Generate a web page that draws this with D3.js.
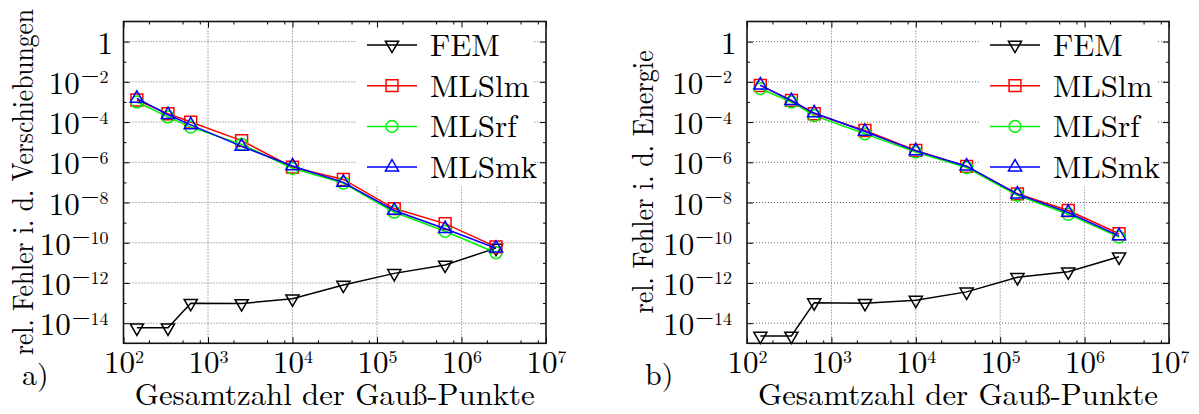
<!DOCTYPE html>
<html>
<head>
<meta charset="utf-8">
<script src="https://cdn.jsdelivr.net/npm/d3@7"></script>
<style>
  body { margin: 0; background: #fff; }
</style>
</head>
<body>
<div id="chart"></div>
<script>
// x values (Gauss points) shared by both panels
const gaussPts = [144, 336, 625, 2500, 1e4, 4e4, 1.6e5, 6.4e5, 2.56e6];

// a) error in displacements
const femA   = [5.9e-15, 5.9e-15, 9.8e-14, 9.5e-14, 1.65e-13, 7.9e-13, 3e-12, 7.8e-12, 5.4e-11];
const mlslmA = [1.25e-3, 2.6e-4, 1e-4, 1.2e-5, 5.7e-7, 1.4e-7, 5e-9, 8.9e-10, 6.2e-11];
const mlsrfA = [1e-3, 1.8e-4, 5.6e-5, 7.8e-6, 5e-7, 9.3e-8, 3.3e-9, 3.7e-10, 3.2e-11];
const mlsmkA = [1.5e-3, 2.3e-4, 7.2e-5, 6.2e-6, 6.5e-7, 1.0e-7, 4e-9, 5e-10, 5.3e-11];

// b) error in energy
const femB   = [2.3e-15, 2.3e-15, 1.05e-13, 9.8e-14, 1.4e-13, 3.6e-13, 1.9e-12, 3.6e-12, 2e-11];
const mlslmB = [6.6e-3, 1.2e-3, 2.6e-4, 3.8e-5, 3.9e-6, 6.3e-7, 2.7e-8, 4e-9, 2.8e-10];
const mlsrfB = [4.6e-3, 1e-3, 2.1e-4, 2.6e-5, 3.2e-6, 5.5e-7, 2.3e-8, 2.6e-9, 1.9e-10];
const mlsmkB = [6.8e-3, 1.15e-3, 2.8e-4, 3.4e-5, 3.7e-6, 6.4e-7, 2.6e-8, 3.2e-9, 2.2e-10];

const seriesNames = ["FEM", "MLSlm", "MLSrf", "MLSmk"];
const xTicks = [1e2, 1e3, 1e4, 1e5, 1e6, 1e7];
const yTicks = [1, 1e-2, 1e-4, 1e-6, 1e-8, 1e-10, 1e-12, 1e-14];
const yMinorTicks = [1e-1, 1e-3, 1e-5, 1e-7, 1e-9, 1e-11, 1e-13];

const W = 1199, H = 414;
const FONT = "'Latin Modern Roman', 'CMU Serif', 'Liberation Serif', 'Times New Roman', 'DejaVu Serif', serif";
const colors = ["#000000", "#ff0000", "#00ee00", "#0000ff"];
const symbols = [
  d3.symbol().type(d3.symbolTriangle).size(75),
  d3.symbol().type(d3.symbolSquare).size(140),
  d3.symbol().type(d3.symbolCircle).size(110),
  d3.symbol().type(d3.symbolTriangle).size(75)
];
const rot = [180, 0, 0, 0];

const svg = d3.select("#chart").append("svg")
  .attr("width", W)
  .attr("height", H)
  .style("font-family", FONT);
svg.append("rect").attr("width", W).attr("height", H).attr("fill", "#fff");

const panels = [
  { left: 123.5, right: 546, ylabel: "rel. Fehler i. d. Verschiebungen", ylabX: 33, ylabLen: 346,
    tag: "a)", tagX: 22, series: [femA, mlslmA, mlsrfA, mlsmkA] },
  { left: 747, right: 1169, ylabel: "rel. Fehler i. d. Energie", ylabX: 653, ylabLen: 263,
    tag: "b)", tagX: 645, series: [femB, mlslmB, mlsrfB, mlsmkB] }
];
const plotTop = 21.5, plotBottom = 343.3;

panels.forEach(drawPanel);
svg.selectAll("text").style("font-family", FONT).attr("fill", "#000");

function drawPanel(p) {
  const x = d3.scaleLog().domain([1e2, 1e7]).range([p.left, p.right]);
  const y = d3.scaleLog().domain([1e-15, 1e1]).range([plotBottom, plotTop]);

  // minor x ticks at 2, 5, 8 of each decade
  const xMinor = [];
  for (let e = 2; e < 7; e++) [2, 5, 8].forEach(m => xMinor.push(m * Math.pow(10, e)));

  const g = svg.append("g");

  // grid
  g.append("g").selectAll("line")
    .data(xTicks.slice(1, -1))
    .join("line")
    .attr("x1", d => x(d)).attr("x2", d => x(d))
    .attr("y1", plotTop).attr("y2", plotBottom)
    .attr("stroke", "#666").attr("stroke-width", 1).attr("stroke-dasharray", "1,2");
  g.append("g").selectAll("line")
    .data(yTicks)
    .join("line")
    .attr("x1", p.left).attr("x2", p.right)
    .attr("y1", d => y(d)).attr("y2", d => y(d))
    .attr("stroke", "#666").attr("stroke-width", 1).attr("stroke-dasharray", "1,2");

  // legend box hides the grid, data is drawn over it
  const lx = p.right - 189;
  g.append("rect")
    .attr("x", lx).attr("y", plotTop + 1)
    .attr("width", 176).attr("height", 164)
    .attr("fill", "#fff");

  // axes (ticks point inward)
  const axes = g.append("g").attr("class", "axes");
  const mk = (axis, tr) => {
    const a = axes.append("g").attr("transform", tr).call(axis);
    a.attr("font-family", null);
    a.select(".domain").remove();
    a.selectAll(".tick text").remove();
    a.selectAll(".tick line").attr("stroke", "#000").attr("stroke-width", 1);
    return a;
  };
  const xb = mk(d3.axisBottom(x).tickValues(xTicks).tickSize(-6), `translate(0,${plotBottom})`);
  mk(d3.axisBottom(x).tickValues(xMinor).tickSize(-3), `translate(0,${plotBottom})`);
  mk(d3.axisTop(x).tickValues(xTicks).tickSize(-6), `translate(0,${plotTop})`);
  mk(d3.axisTop(x).tickValues(xMinor).tickSize(-3), `translate(0,${plotTop})`);
  const yl = mk(d3.axisLeft(y).tickValues(yTicks).tickSize(-6), `translate(${p.left},0)`);
  mk(d3.axisLeft(y).tickValues(yMinorTicks).tickSize(-3), `translate(${p.left},0)`);
  mk(d3.axisRight(y).tickValues(yTicks).tickSize(-6), `translate(${p.right},0)`);
  mk(d3.axisRight(y).tickValues(yMinorTicks).tickSize(-3), `translate(${p.right},0)`);

  // x tick labels 10^k
  xb.selectAll(".tick").each(function(d) {
    const t = d3.select(this).append("text")
      .attr("x", 0).attr("y", 30)
      .attr("text-anchor", "middle")
      .style("font-size", "31px");
    t.append("tspan").text("10");
    t.append("tspan").attr("dy", -10).style("font-size", "18px").text(Math.round(Math.log10(d)));
  });

  // y tick labels
  yl.selectAll(".tick").each(function(d) {
    const e = Math.round(Math.log10(d));
    const t = d3.select(this).append("text")
      .attr("y", 11.5)
      .attr("text-anchor", "end")
      .style("font-size", "31px");
    if (e === 0) {
      t.attr("x", -10.5).text("1");
    } else {
      t.attr("x", -15);
      t.append("tspan").text("10");
      t.append("tspan").attr("dy", -10.5).attr("dx", 1).style("font-size", "24px").text("\u2212");
      t.append("tspan").style("font-size", "18px").text(-e);
    }
  });

  // frame
  g.append("rect")
    .attr("x", p.left).attr("y", plotTop)
    .attr("width", p.right - p.left).attr("height", plotBottom - plotTop)
    .attr("fill", "none").attr("stroke", "#111").attr("stroke-width", 1.6);

  // data
  p.series.forEach((vals, i) => {
    const pts = gaussPts.map((gp, j) => [gp, vals[j]]);
    g.append("path")
      .datum(pts)
      .attr("fill", "none")
      .attr("stroke", colors[i])
      .attr("stroke-width", 1.5)
      .attr("d", d3.line().x(d => x(d[0])).y(d => y(d[1])));
    g.append("g").selectAll("path")
      .data(pts)
      .join("path")
      .attr("transform", d => `translate(${x(d[0])},${y(d[1])}) rotate(${rot[i]})`)
      .attr("d", symbols[i]())
      .attr("fill", "none")
      .attr("stroke", colors[i])
      .attr("stroke-width", 1.5);
  });

  // legend entries
  const leg = g.append("g");
  seriesNames.forEach((name, i) => {
    const cy = 45 + i * 40.7;
    leg.append("line")
      .attr("x1", lx + 10).attr("x2", lx + 60)
      .attr("y1", cy).attr("y2", cy)
      .attr("stroke", colors[i]).attr("stroke-width", 1.5);
    leg.append("path")
      .attr("transform", `translate(${lx + 35},${cy}) rotate(${rot[i]})`)
      .attr("d", symbols[i]())
      .attr("fill", "none")
      .attr("stroke", colors[i])
      .attr("stroke-width", 1.5);
    leg.append("text")
      .attr("x", lx + 73).attr("y", cy + 11)
      .style("font-size", "31px")
      .text(name);
  });

  // axis titles
  g.append("text")
    .attr("x", (p.left + p.right) / 2).attr("y", 405)
    .attr("text-anchor", "middle")
    .attr("textLength", 400).attr("lengthAdjust", "spacingAndGlyphs")
    .style("font-size", "30px")
    .text("Gesamtzahl der Gauß-Punkte");

  g.append("text")
    .attr("transform", `translate(${p.ylabX},182) rotate(-90)`)
    .attr("text-anchor", "middle")
    .attr("textLength", p.ylabLen).attr("lengthAdjust", "spacingAndGlyphs")
    .style("font-size", "30px")
    .text(p.ylabel);

  g.append("text")
    .attr("x", p.tagX).attr("y", 385)
    .style("font-size", "30px")
    .text(p.tag);
}
</script>
</body>
</html>
